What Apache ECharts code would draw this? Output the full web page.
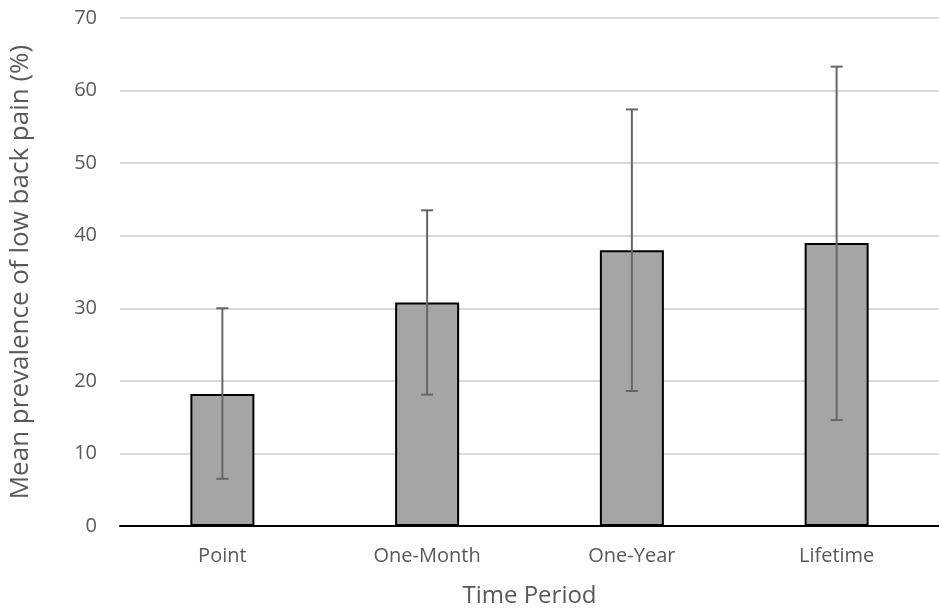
<!DOCTYPE html>
<html>
<head>
<meta charset="utf-8">
<script src="https://cdn.jsdelivr.net/npm/echarts@6/dist/echarts.min.js"></script>
<style>html,body{margin:0;padding:0;background:#fff;overflow:hidden;}#c{width:939px;height:613px;}</style>
</head>
<body>
<div id="c"></div>
<script>
const categories = ['Point', 'One-Month', 'One-Year', 'Lifetime'];
const means = [18.2, 30.8, 38.0, 39.0];
const lowerErr = [6.5, 18.1, 18.6, 14.6];
const upperErr = [30.0, 43.5, 57.4, 63.3];
const yTicks = [0, 10, 20, 30, 40, 50, 60, 70];

const chart = echarts.init(document.getElementById('c'));
const FONT = '"Open Sans", "Noto Sans", sans-serif';
chart.setOption({
  animation: false,
  backgroundColor: '#ffffff',
  grid: { left: 120, top: 18, width: 829, height: 509, containLabel: false },
  xAxis: {
    type: 'category',
    data: categories,
    name: 'Time Period',
    nameLocation: 'middle',
    nameGap: 58,
    nameTextStyle: { fontFamily: FONT, fontSize: 24, color: '#595959' },
    axisLine: { lineStyle: { color: '#000000', width: 2 } },
    axisTick: { show: false },
    axisLabel: { fontFamily: FONT, fontSize: 20, color: '#595959', margin: 20 }
  },
  yAxis: {
    type: 'value',
    min: yTicks[0],
    max: yTicks[yTicks.length - 1],
    interval: 10,
    name: 'Mean prevalence of low back pain (%)',
    nameLocation: 'middle',
    nameGap: 86,
    nameTextStyle: { fontFamily: FONT, fontSize: 26, color: '#595959' },
    axisLine: { show: false },
    axisTick: { show: false },
    splitLine: { lineStyle: { color: '#d9d9d9', width: 2 } },
    axisLabel: { fontFamily: FONT, fontSize: 20, color: '#595959', margin: 23 }
  },
  series: [
    {
      type: 'bar',
      data: means,
      barWidth: 64,
      itemStyle: { color: '#a5a5a5', borderColor: '#000000', borderWidth: 2 },
      z: 2
    },
    {
      type: 'custom',
      z: 3,
      data: categories.map((c, i) => [i, lowerErr[i], upperErr[i]]),
      renderItem: function (params, api) {
        const i = api.value(0);
        const lo = api.coord([i, api.value(1)]);
        const hi = api.coord([i, api.value(2)]);
        const half = 6;
        const style = { stroke: '#666666', lineWidth: 2 };
        return {
          type: 'group',
          children: [
            { type: 'line', shape: { x1: lo[0], y1: lo[1], x2: hi[0], y2: hi[1] }, style: style },
            { type: 'line', shape: { x1: lo[0] - half, y1: lo[1], x2: lo[0] + half, y2: lo[1] }, style: style },
            { type: 'line', shape: { x1: hi[0] - half, y1: hi[1], x2: hi[0] + half, y2: hi[1] }, style: style }
          ]
        };
      }
    }
  ]
});
</script>
</body>
</html>
